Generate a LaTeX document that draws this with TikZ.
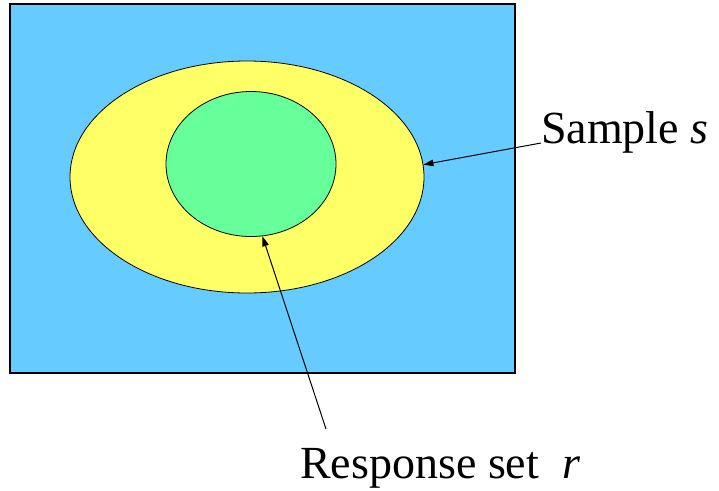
\documentclass[tikz,border=0pt]{standalone}
\usepackage{fontspec}
\setmainfont{Liberation Serif}
\usetikzlibrary{positioning,arrows.meta,shapes.geometric}
\definecolor{frame}{HTML}{66CCFF}
\definecolor{samp}{HTML}{FFFF66}
\definecolor{resp}{HTML}{66FF99}
\tikzset{
  setshape/.style={draw=black, line width=0.8pt, ellipse, inner sep=0pt},
  label text/.style={font=\fontsize{46}{55}\selectfont, inner sep=0pt},
  pointer/.style={-{Triangle[length=10pt,width=6.5pt]}, line width=1pt}
}
\begin{document}
\begin{tikzpicture}[x=1pt, y=-1pt]
\useasboundingbox (0,0) rectangle (719,490);
\fill[frame] (10,4) rectangle (515,373);
\draw[line width=1.6pt] (10,4) rectangle (515,373);
\node[setshape, fill=samp, minimum width=354pt, minimum height=232pt] (sample) at (247,177) {};
\node[setshape, fill=resp, minimum width=170pt, minimum height=145pt] (respset) at (251,164) {};
\node[label text, anchor=base west] (slabel) at (541,143) {Sample \textit{s}};
\node[label text, anchor=base west] (rlabel) at (300,478) {Response set~ \textit{r}};
\coordinate (rtail) at (326,429);
\draw[pointer] (slabel.base west) -- (sample.4);
\draw[pointer] (rtail) -- (respset.-81);
\end{tikzpicture}
\end{document}
